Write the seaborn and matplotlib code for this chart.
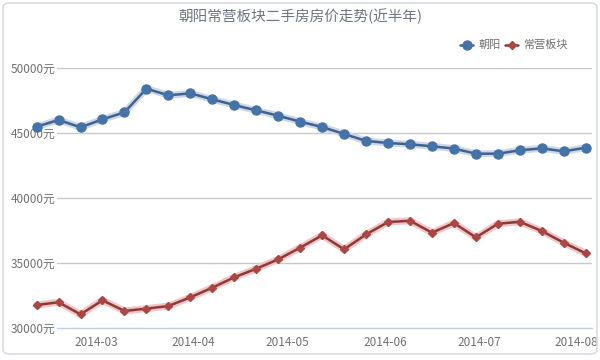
import matplotlib
matplotlib.use("Agg")
import matplotlib.pyplot as plt
import matplotlib.dates as mdates
from matplotlib.patches import FancyBboxPatch
import seaborn as sns
import pandas as pd
import numpy as np

title = "朝阳常营板块二手房房价走势(近半年)"
series_names = ["朝阳", "常营板块"]
start_date = "2014-02-10"
n_weeks = 26
chaoyang = [45490, 46000, 45440, 46050, 46590, 48410, 47900, 48050, 47590, 47150,
            46740, 46330, 45870, 45460, 44925, 44390, 44230, 44130, 43980, 43800,
            43410, 43410, 43670, 43820, 43590, 43870]
changying = [31770, 31980, 31050, 32130, 31310, 31490, 31690, 32360, 33100, 33900,
             34560, 35280, 36180, 37130, 36050, 37200, 38150, 38250, 37330, 38070,
             36970, 38020, 38170, 37460, 36560, 35740]
y_ticks = [30000, 35000, 40000, 45000, 50000]
x_ticks = ["2014-03-01", "2014-04-01", "2014-05-01", "2014-06-01", "2014-07-01", "2014-08-01"]

dates = pd.date_range(start_date, periods=n_weeks, freq="7D")
df = pd.DataFrame({"date": list(dates) * 2,
                   "price": chaoyang + changying,
                   "region": [series_names[0]] * n_weeks + [series_names[1]] * n_weeks})

sns.set_style("white")
plt.rcParams["font.family"] = ["Noto Sans CJK SC", "DejaVu Sans"]

fig = plt.figure(figsize=(6, 3.6), dpi=100)
ax = fig.add_axes([57 / 600, 1 - 328 / 360, (592 - 57) / 600, (328 - 68) / 360])

colors = {"朝阳": "#4572A7", "常营板块": "#AA4643"}
line_colors = {"朝阳": "#41608A", "常营板块": "#8A3A3A"}
shadow_colors = {"朝阳": "#CCD8EA", "常营板块": "#F2C4C4"}
markers = {"朝阳": "o", "常营板块": "D"}
msize = {"朝阳": 6.5, "常营板块": 4.5}

for name in series_names:
    sub = df[df.region == name]
    sns.lineplot(data=sub, x="date", y="price", ax=ax, color=shadow_colors[name],
                 linewidth=5, legend=False, clip_on=False, zorder=2)
    sns.lineplot(data=sub, x="date", y="price", ax=ax, color=line_colors[name],
                 linewidth=1.8, legend=False, clip_on=False, zorder=3)
    ax.plot(sub["date"], sub["price"], linestyle="none", marker=markers[name],
            markersize=msize[name], color=colors[name], markeredgecolor=colors[name],
            clip_on=False, zorder=4)

ax.set_ylim(30000, 50000)
ax.set_xlim(pd.Timestamp("2014-02-16 12:00"), pd.Timestamp("2014-08-06"))
ax.set_yticks(y_ticks)
ax.set_yticklabels([f"{v}元" for v in y_ticks], fontsize=8.5, color="#707070")
ax.set_xticks(pd.to_datetime(x_ticks))
ax.xaxis.set_major_formatter(mdates.DateFormatter("%Y-%m"))
ax.tick_params(axis="x", labelsize=8.5, labelcolor="#707070", length=5, color="#C0D0E0",
               direction="out", pad=1)
ax.tick_params(axis="y", length=0, pad=1)
for lab in ax.get_xticklabels():
    lab.set_ha("center")
ax.set_xlabel("")
ax.set_ylabel("")
for yv in y_ticks[1:]:
    ax.axhline(yv, color="#C8C8C8", linewidth=1, zorder=1)
for s in ["top", "right", "left"]:
    ax.spines[s].set_visible(False)
ax.spines["bottom"].set_color("#C0D0E0")
ax.spines["bottom"].set_linewidth(1)
ax.grid(False)

fig.text(300 / 600, 1 - 16 / 360, title, ha="center", va="center", fontsize=10.5, color="#6E7580")

# legend
ly = 1 - 45 / 360
fig.lines.append(plt.Line2D([460 / 600, 473 / 600], [ly, ly], transform=fig.transFigure,
                            color=line_colors["朝阳"], linewidth=1.8))
fig.lines.append(plt.Line2D([466.5 / 600], [ly], transform=fig.transFigure, marker="o",
                            markersize=6.5, color=colors["朝阳"]))
fig.text(479 / 600, ly, series_names[0], ha="left", va="center", fontsize=8, color="#707070")
fig.lines.append(plt.Line2D([505 / 600, 518 / 600], [ly, ly], transform=fig.transFigure,
                            color=line_colors["常营板块"], linewidth=1.8))
fig.lines.append(plt.Line2D([511.5 / 600], [ly], transform=fig.transFigure, marker="D",
                            markersize=4.5, color=colors["常营板块"]))
fig.text(523 / 600, ly, series_names[1], ha="left", va="center", fontsize=8, color="#707070")

border = FancyBboxPatch((3 / 600, 6 / 360), 594 / 600, 351 / 360, transform=fig.transFigure,
                        boxstyle="round,pad=0,rounding_size=0.012", fill=False,
                        edgecolor="#D8DCE3", linewidth=1.2)
fig.patches.append(border)

fig.savefig("out.png", dpi=100)
